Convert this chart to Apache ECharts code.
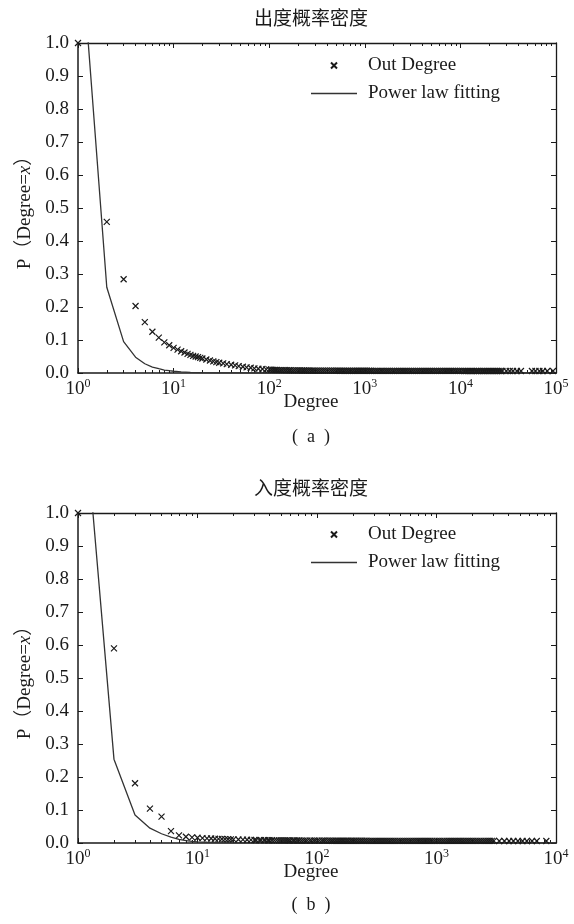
<!DOCTYPE html>
<html>
<head>
<meta charset="utf-8">
<script src="https://cdn.jsdelivr.net/npm/echarts@6/dist/echarts.min.js"></script>
<style>
  html, body { margin: 0; padding: 0; background: #fff; }
  #chart { width: 574px; height: 924px; }
</style>
</head>
<body>
<div id="chart"></div>
<script>
// (a) out-degree: markers
const headDegA = [1, 2, 3, 4, 5, 6, 7, 8, 9, 10, 11, 12, 13, 14, 15, 16, 17, 18, 19, 20,
  22, 24, 26, 28, 30, 33, 36, 40, 44, 48, 53, 58, 64, 70, 77, 85, 93];
const headProbA = [1.0, 0.458, 0.284, 0.203, 0.154, 0.125, 0.107, 0.093, 0.084, 0.076,
  0.071, 0.066, 0.062, 0.058, 0.055, 0.052, 0.050, 0.048, 0.046, 0.044,
  0.041, 0.038, 0.035, 0.033, 0.031, 0.029, 0.027, 0.025, 0.023, 0.021,
  0.019, 0.017, 0.016, 0.014, 0.013, 0.012, 0.011];
// the dense band that runs along the axis
const tailDegA = [100, 105, 110, 115, 120, 126, 132, 138, 145, 152,
  160, 167, 175, 183, 192, 201, 210, 220, 230, 240,
  251, 263, 275, 287, 300, 315, 330, 346, 363, 380,
  398, 417, 437, 457, 479, 502, 525, 550, 575, 603,
  631, 661, 692, 725, 759, 795, 832, 871, 912, 955,
  1000, 1050, 1100, 1150, 1200, 1260, 1320, 1380, 1450, 1510,
  1580, 1660, 1740, 1820, 1910, 2000, 2090, 2190, 2290, 2400,
  2510, 2630, 2750, 2880, 3020, 3160, 3310, 3470, 3630, 3800,
  3980, 4170, 4370, 4570, 4790, 5010, 5250, 5500, 5750, 6030,
  6310, 6610, 6920, 7250, 7590, 7950, 8320, 8710, 9120, 9550,
  10000, 10500, 11000, 11500, 12000, 12600, 13200, 13800, 14500, 15100,
  15800, 16600, 17400, 18200, 19100, 20000, 20900, 21900, 22900, 24000,
  25100, 26300, 27500,
  30200, 32800, 35500, 39000, 43000, 56000, 61000, 67000, 73000, 81000, 93000];
const tailProbA = [0.0100, 0.0097, 0.0095, 0.0093, 0.0091, 0.0089, 0.0088, 0.0086, 0.0085, 0.0084,
  0.0083, 0.0082, 0.0081, 0.0080, 0.0079, 0.0078, 0.0078, 0.0077, 0.0076, 0.0076,
  0.0075, 0.0075, 0.0074, 0.0074, 0.0073, 0.0073, 0.0072, 0.0072, 0.0072, 0.0071,
  0.0071, 0.0071, 0.0070, 0.0070, 0.0070, 0.0070, 0.0070, 0.0069, 0.0069, 0.0069,
  0.0069, 0.0068, 0.0068, 0.0068, 0.0068, 0.0068, 0.0068, 0.0067, 0.0067, 0.0067,
  0.0067, 0.0067, 0.0067, 0.0067, 0.0066, 0.0066, 0.0066, 0.0066, 0.0066, 0.0066,
  0.0066, 0.0066, 0.0066, 0.0066, 0.0065, 0.0065, 0.0065, 0.0065, 0.0065, 0.0065,
  0.0065, 0.0065, 0.0065, 0.0065, 0.0065, 0.0065, 0.0064, 0.0064, 0.0064, 0.0064,
  0.0064, 0.0064, 0.0064, 0.0064, 0.0064, 0.0064, 0.0064, 0.0064, 0.0063, 0.0063,
  0.0063, 0.0063, 0.0063, 0.0063, 0.0063, 0.0063, 0.0063, 0.0063, 0.0063, 0.0063,
  0.0063, 0.0063, 0.0062, 0.0062, 0.0062, 0.0062, 0.0062, 0.0062, 0.0062, 0.0062,
  0.0062, 0.0062, 0.0062, 0.0062, 0.0062, 0.0062, 0.0062, 0.0062, 0.0062, 0.0062,
  0.0062, 0.0062, 0.0062,
  0.0062, 0.0062, 0.0062, 0.0062, 0.0062, 0.0062, 0.0062, 0.0062, 0.0062, 0.0062, 0.0062];
const fitDegA = [1, 2, 3, 4, 5, 6, 7, 8, 9, 10, 12, 15, 20, 30, 50, 100, 1000, 100000];
const fitProbA = [1.41, 0.26, 0.095, 0.048, 0.028, 0.018, 0.013, 0.009, 0.007, 0.0053,
  0.0034, 0.0019, 0.0009, 0.0003, 0.00008, 0.00001, 0, 0];

// (b) in-degree
const headDegB = [1, 2, 3, 4, 5, 6, 7, 8, 9, 10, 11, 12, 13, 14, 15, 16, 17, 18, 19, 20,
  22, 24, 26, 28];
const headProbB = [1.0, 0.59, 0.181, 0.104, 0.080, 0.036, 0.023, 0.019, 0.017, 0.016,
  0.015, 0.014, 0.0135, 0.013, 0.0125, 0.012, 0.0118, 0.0115, 0.0112, 0.011,
  0.0105, 0.010, 0.0097, 0.0094];
const tailDegB = [30, 31, 33, 34, 36, 37, 39, 40, 42, 44,
  46, 48, 50, 52, 54, 56, 58, 60, 63, 65,
  68, 71, 74, 77, 80, 83, 87, 90, 94, 97,
  101, 105, 110, 114, 118, 123, 128, 133, 138, 144,
  150, 156, 162, 168, 175, 182, 190, 197, 205, 213,
  222, 231, 240, 250, 260, 271, 282, 293, 305, 317,
  330, 343, 357, 371, 386, 402, 418, 435, 452, 471,
  490, 510, 530, 551, 573, 596, 620, 645, 671, 698,
  726, 755, 786, 817, 850, 884, 920, 960, 1000, 1040,
  1080, 1125, 1170, 1220, 1270, 1320, 1370, 1425, 1480, 1540,
  1600, 1670, 1740, 1810, 1880, 1955, 2030, 2115, 2200, 2290,
  2380, 2480, 2580, 2685, 2790, 2900, 3020,
  3350, 3700, 4050, 4400, 4800, 5250, 5700, 6300, 6900, 8300];
const tailProbB = [0.0090, 0.0089, 0.0088, 0.0087, 0.0086, 0.0085, 0.0084, 0.0083, 0.0082, 0.0081,
  0.0080, 0.0080, 0.0079, 0.0079, 0.0078, 0.0078, 0.0077, 0.0077, 0.0076, 0.0076,
  0.0075, 0.0075, 0.0074, 0.0074, 0.0073, 0.0073, 0.0072, 0.0072, 0.0072, 0.0071,
  0.0071, 0.0071, 0.0071, 0.0070, 0.0070, 0.0070, 0.0070, 0.0069, 0.0069, 0.0069,
  0.0069, 0.0069, 0.0068, 0.0068, 0.0068, 0.0068, 0.0068, 0.0067, 0.0067, 0.0067,
  0.0067, 0.0067, 0.0067, 0.0067, 0.0067, 0.0066, 0.0066, 0.0066, 0.0066, 0.0066,
  0.0066, 0.0066, 0.0066, 0.0066, 0.0066, 0.0065, 0.0065, 0.0065, 0.0065, 0.0065,
  0.0065, 0.0065, 0.0065, 0.0065, 0.0065, 0.0065, 0.0064, 0.0064, 0.0064, 0.0064,
  0.0064, 0.0064, 0.0064, 0.0064, 0.0064, 0.0064, 0.0064, 0.0064, 0.0064, 0.0064,
  0.0064, 0.0064, 0.0064, 0.0063, 0.0063, 0.0063, 0.0063, 0.0063, 0.0063, 0.0063,
  0.0063, 0.0063, 0.0063, 0.0063, 0.0063, 0.0063, 0.0063, 0.0063, 0.0063, 0.0063,
  0.0063, 0.0063, 0.0063, 0.0063, 0.0063, 0.0063, 0.0063,
  0.0062, 0.0062, 0.0062, 0.0062, 0.0062, 0.0062, 0.0062, 0.0062, 0.0062, 0.0062];
const fitDegB = [1, 2, 3, 4, 5, 6, 7, 8, 9, 10, 12, 15, 20, 30, 50, 100, 1000, 10000];
const fitProbB = [1.53, 0.254, 0.085, 0.045, 0.028, 0.018, 0.011, 0.007, 0.005, 0.0035,
  0.0022, 0.0012, 0.0006, 0.0002, 0.00005, 0.00001, 0, 0];

// tick labels
const xExpA = ['0', '1', '2', '3', '4', '5'];
const xExpB = ['0', '1', '2', '3', '4'];
const yTickLabels = ['0.0', '0.1', '0.2', '0.3', '0.4', '0.5', '0.6', '0.7', '0.8', '0.9', '1.0'];

const titles = ['出度概率密度', '入度概率密度'];
const captions = ['(\u2002a\u2002)', '(\u2002b\u2002)'];
const seriesNames = ['Out Degree', 'Power law fitting'];

const SERIF = '"Liberation Serif", "DejaVu Serif", serif';
const CJK = '"Noto Sans CJK SC", sans-serif';
const INK = '#1a1a1a';
const CROSS = 'path://M0,0L10,10M10,0L0,10';
const DASH = 'path://M0,0H46V1.3H0Z';

const zip = (xs, ys) => xs.map((x, i) => [x, ys[i]]);

const chart = echarts.init(document.getElementById('chart'));

const grids = [
  { left: 78, right: 18, top: 43, height: 330 },
  { left: 78, right: 18, top: 513, height: 330 }
];
const maxDeg = [100000, 10000];
const exps = [xExpA, xExpB];

const xAxes = [];
const yAxes = [];
grids.forEach((g, gi) => {
  const base = {
    gridIndex: gi,
    type: 'log',
    logBase: 10,
    min: 1,
    max: maxDeg[gi],
    splitLine: { show: false },
    axisTick: { inside: true, length: 5, lineStyle: { color: INK } },
    minorTick: { show: true, splitNumber: 9, length: 3, lineStyle: { color: INK } }
  };
  xAxes.push(Object.assign({}, base, {
    position: 'bottom',
    axisLine: { onZero: false, lineStyle: { color: INK, width: 1.5 } },
    axisLabel: {
      margin: 5,
      formatter: (v) => {
        const e = exps[gi][Math.round(Math.log10(v))];
        return '{b|10}{s|' + e + '}';
      },
      rich: {
        b: { fontFamily: SERIF, fontSize: 19, color: INK },
        s: { fontFamily: SERIF, fontSize: 12, color: INK, padding: [0, 0, 10, 0] }
      }
    },
    name: 'Degree',
    nameLocation: 'middle',
    nameGap: 20,
    nameMoveOverlap: false,
    nameTextStyle: {
      fontFamily: SERIF, fontSize: 19, color: INK, verticalAlign: 'top',
      padding: [0, 12, 0, 0]
    }
  }));
  xAxes.push(Object.assign({}, base, {
    position: 'top',
    axisLine: { onZero: false, lineStyle: { color: INK, width: 1.3 } },
    axisLabel: { show: false }
  }));
  const ybase = {
    gridIndex: gi,
    type: 'value',
    min: 0,
    max: 1,
    interval: 0.1,
    splitLine: { show: false },
    axisTick: { show: true, inside: true, length: 5, lineStyle: { color: INK } }
  };
  yAxes.push(Object.assign({}, ybase, {
    position: 'left',
    axisLine: { show: true, onZero: false, lineStyle: { color: INK, width: 1.5 } },
    axisLabel: {
      margin: 9,
      fontFamily: SERIF,
      fontSize: 19,
      color: INK,
      formatter: (v) => yTickLabels[Math.round(v * 10)]
    },
    name: 'P（Degree={i|x}）',
    nameLocation: 'middle',
    nameGap: 43,
    nameRotate: 90,
    nameTextStyle: {
      fontFamily: SERIF + ', ' + CJK,
      fontSize: 19,
      color: INK,
      rich: { i: { fontFamily: SERIF, fontStyle: 'italic', fontSize: 19, color: INK } }
    }
  }));
  yAxes.push(Object.assign({}, ybase, {
    position: 'right',
    axisLine: { show: true, onZero: false, lineStyle: { color: INK, width: 1.3 } },
    axisLabel: { show: false }
  }));
});

const markerData = [
  zip(headDegA, headProbA).concat(zip(tailDegA, tailProbA)),
  zip(headDegB, headProbB).concat(zip(tailDegB, tailProbB))
];
const fitData = [zip(fitDegA, fitProbA), zip(fitDegB, fitProbB)];

const series = [];
[0, 1].forEach((gi) => {
  series.push({
    name: seriesNames[0],
    type: 'scatter',
    xAxisIndex: gi * 2,
    yAxisIndex: gi * 2,
    symbol: CROSS,
    symbolSize: 6,
    clip: false,
    itemStyle: { color: INK, borderColor: INK, borderWidth: 1.2, opacity: 1 },
    data: markerData[gi],
    z: 3
  });
  series.push({
    name: seriesNames[1],
    type: 'line',
    xAxisIndex: gi * 2,
    yAxisIndex: gi * 2,
    symbol: 'none',
    itemStyle: { color: '#333' },
    lineStyle: { color: '#333', width: 1.3 },
    data: fitData[gi],
    z: 2
  });
});

const legendTops = [51, 520];
const legends = legendTops.map((t) => ({
  orient: 'vertical',
  left: 306,
  top: t,
  itemWidth: 46,
  itemHeight: 6,
  itemGap: 9,
  selectedMode: false,
  data: [
    { name: seriesNames[0] },
    { name: seriesNames[1], icon: DASH, itemStyle: { color: '#333', borderWidth: 0 } }
  ],
  textStyle: { fontFamily: SERIF, fontSize: 19, color: INK, padding: [0, 0, 0, 6] }
}));

const titleY = [18, 488];
const captionY = [437, 905];
const graphic = [];
[0, 1].forEach((gi) => {
  graphic.push({
    type: 'text', x: 311, y: titleY[gi],
    style: { text: titles[gi], font: '19px ' + CJK, fill: INK, align: 'center', verticalAlign: 'middle' }
  });
  graphic.push({
    type: 'text', x: 311, y: captionY[gi],
    style: { text: captions[gi], font: '18px ' + SERIF, fill: INK, align: 'center', verticalAlign: 'middle' }
  });
});

chart.setOption({
  animation: false,
  backgroundColor: '#fff',
  grid: grids,
  xAxis: xAxes,
  yAxis: yAxes,
  legend: legends,
  series: series,
  graphic: graphic
});
</script>
</body>
</html>
